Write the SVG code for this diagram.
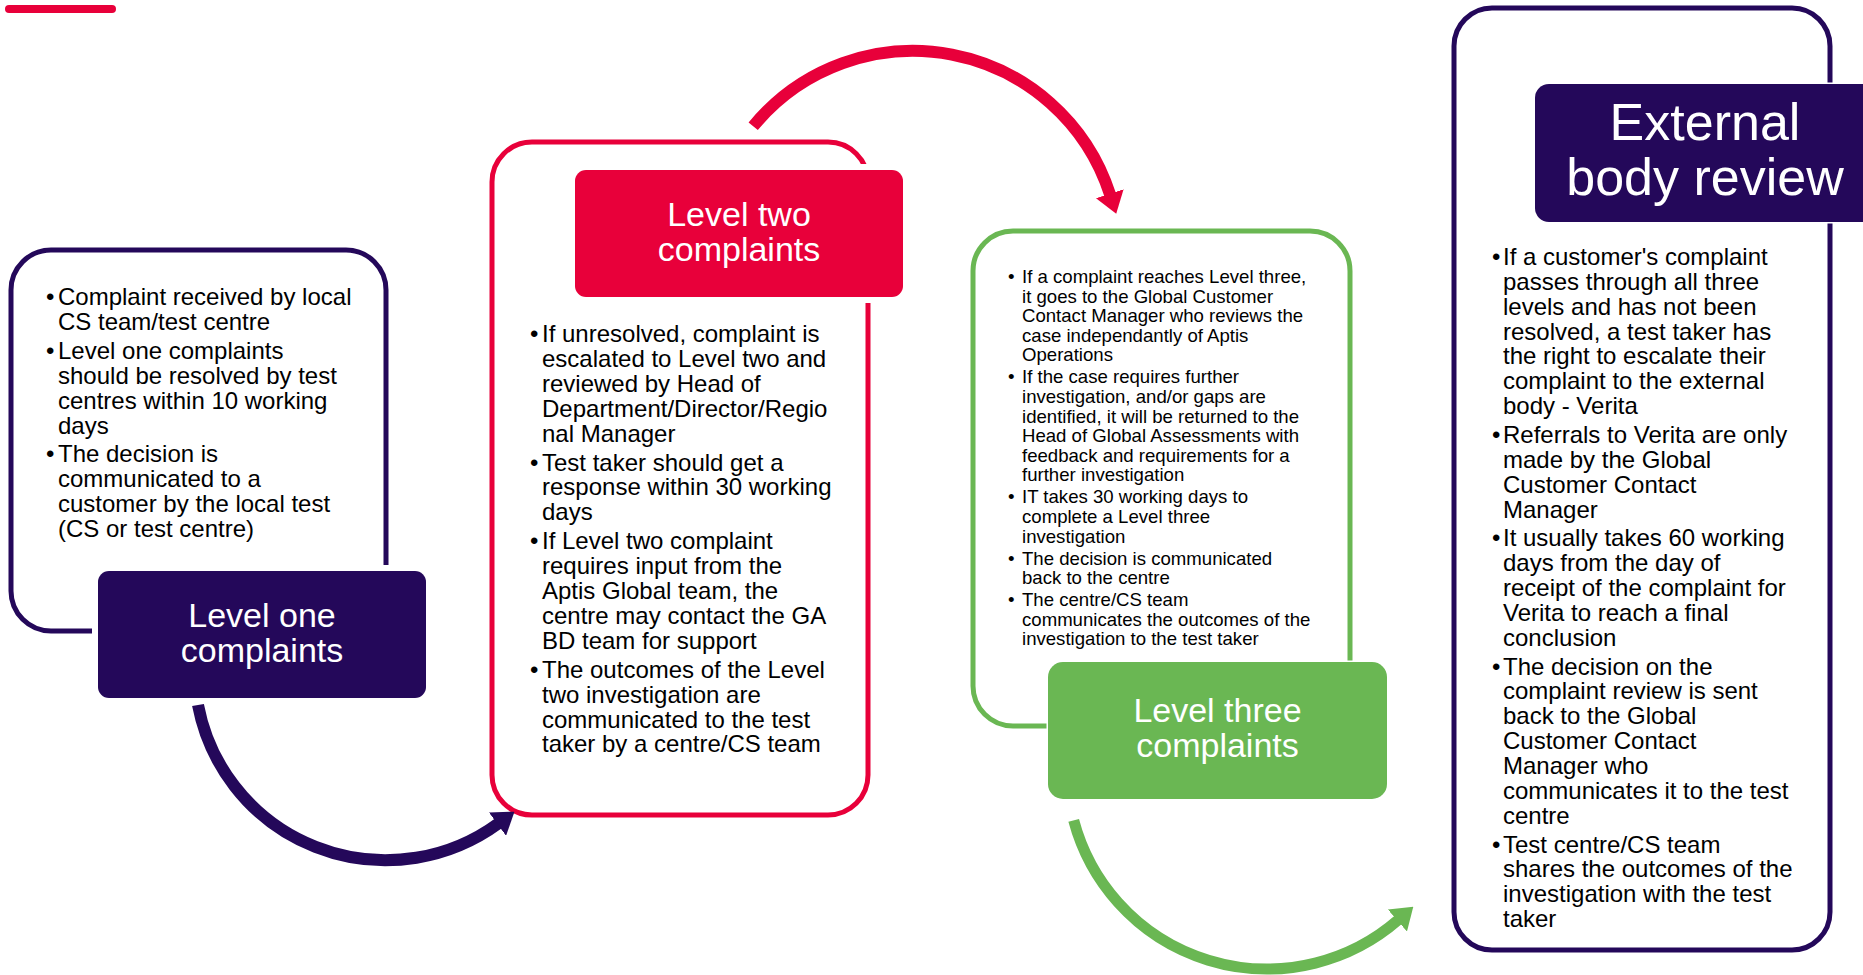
<svg xmlns="http://www.w3.org/2000/svg" width="1863" height="975" viewBox="0 0 1863 975">
<defs>
<style>
.txt{font-family:"Liberation Sans",Arial,sans-serif;font-size:24px;fill:#000}
.sm{font-size:18.6px}
.ttl{font-family:"Liberation Sans",Arial,sans-serif;font-size:34px;fill:#fff;text-anchor:middle}
.big{font-size:52px}
.outline{fill:none;stroke-width:5}
.lbl{paint-order:stroke;stroke:#fff}
.conn{fill:none;stroke-linecap:butt}
</style>
<marker id="ahP" markerUnits="userSpaceOnUse" markerWidth="21" markerHeight="29" viewBox="0 0 21 29" refX="1" refY="14.5" orient="auto"><path d="M0,0 L21,14.5 L0,29 z" fill="#24085A"/></marker>
<marker id="ahR" markerUnits="userSpaceOnUse" markerWidth="21" markerHeight="29" viewBox="0 0 21 29" refX="1" refY="14.5" orient="auto"><path d="M0,0 L21,14.5 L0,29 z" fill="#E8003A"/></marker>
<marker id="ahG" markerUnits="userSpaceOnUse" markerWidth="21" markerHeight="29" viewBox="0 0 21 29" refX="1" refY="14.5" orient="auto"><path d="M0,0 L21,14.5 L0,29 z" fill="#6AB753"/></marker>
</defs>
<rect width="1863" height="975" fill="#fff"/>
<line x1="9" y1="9" x2="112" y2="9" stroke="#E8003A" stroke-width="8" stroke-linecap="round"/>

<g id="level-one">
<rect class="outline" x="11" y="250" width="375" height="381" rx="40" stroke="#24085A"/>
<text class="txt">
<tspan x="46" y="305">•</tspan><tspan x="58" y="305">Complaint received by local</tspan>
<tspan x="58" y="329.9">CS team/test centre</tspan>
<tspan x="46" y="358.8">•</tspan><tspan x="58" y="358.8">Level one complaints</tspan>
<tspan x="58" y="383.7">should be resolved by test</tspan>
<tspan x="58" y="408.6">centres within 10 working</tspan>
<tspan x="58" y="433.5">days</tspan>
<tspan x="46" y="462.4">•</tspan><tspan x="58" y="462.4">The decision is</tspan>
<tspan x="58" y="487.3">communicated to a</tspan>
<tspan x="58" y="512.2">customer by the local test</tspan>
<tspan x="58" y="537.1">(CS or test centre)</tspan>
</text>
<rect class="lbl" x="98" y="571" width="328" height="127" rx="11" fill="#24085A" stroke-width="12"/>
<text class="ttl"><tspan x="262" y="627">Level one</tspan><tspan x="262" y="662">complaints</tspan></text>
</g>

<g id="level-two">
<rect class="outline" x="492" y="142" width="376" height="673" rx="40" stroke="#E8003A"/>
<text class="txt">
<tspan x="530" y="342">•</tspan><tspan x="542" y="342">If unresolved, complaint is</tspan>
<tspan x="542" y="366.9">escalated to Level two and</tspan>
<tspan x="542" y="391.8">reviewed by Head of</tspan>
<tspan x="542" y="416.7">Department/Director/Regio</tspan>
<tspan x="542" y="441.6">nal Manager</tspan>
<tspan x="530" y="470.5">•</tspan><tspan x="542" y="470.5">Test taker should get a</tspan>
<tspan x="542" y="495.4">response within 30 working</tspan>
<tspan x="542" y="520.3">days</tspan>
<tspan x="530" y="549.2">•</tspan><tspan x="542" y="549.2">If Level two complaint</tspan>
<tspan x="542" y="574.1">requires input from the</tspan>
<tspan x="542" y="599">Aptis Global team, the</tspan>
<tspan x="542" y="623.9">centre may contact the GA</tspan>
<tspan x="542" y="648.8">BD team for support</tspan>
<tspan x="530" y="677.7">•</tspan><tspan x="542" y="677.7">The outcomes of the Level</tspan>
<tspan x="542" y="702.6">two investigation are</tspan>
<tspan x="542" y="727.5">communicated to the test</tspan>
<tspan x="542" y="752.4">taker by a centre/CS team</tspan>
</text>
<rect class="lbl" x="575" y="170" width="328" height="127" rx="11" fill="#E8003A" stroke-width="12"/>
<text class="ttl"><tspan x="739" y="226">Level two</tspan><tspan x="739" y="261">complaints</tspan></text>
</g>

<g id="level-three">
<rect class="outline" x="973" y="231" width="377" height="495" rx="40" stroke="#6AB753"/>
<text class="txt sm">
<tspan x="1008" y="283">•</tspan><tspan x="1022" y="283">If a complaint reaches Level three,</tspan>
<tspan x="1022" y="302.6">it goes to the Global Customer</tspan>
<tspan x="1022" y="322.2">Contact Manager who reviews the</tspan>
<tspan x="1022" y="341.8">case independantly of Aptis</tspan>
<tspan x="1022" y="361.4">Operations</tspan>
<tspan x="1008" y="383.4">•</tspan><tspan x="1022" y="383.4">If the case requires further</tspan>
<tspan x="1022" y="403">investigation, and/or gaps are</tspan>
<tspan x="1022" y="422.6">identified, it will be returned to the</tspan>
<tspan x="1022" y="442.2">Head of Global Assessments with</tspan>
<tspan x="1022" y="461.8">feedback and requirements for a</tspan>
<tspan x="1022" y="481.4">further investigation</tspan>
<tspan x="1008" y="503.4">•</tspan><tspan x="1022" y="503.4">IT takes 30 working days to</tspan>
<tspan x="1022" y="523">complete a Level three</tspan>
<tspan x="1022" y="542.6">investigation</tspan>
<tspan x="1008" y="564.6">•</tspan><tspan x="1022" y="564.6">The decision is communicated</tspan>
<tspan x="1022" y="584.2">back to the centre</tspan>
<tspan x="1008" y="606.2">•</tspan><tspan x="1022" y="606.2">The centre/CS team</tspan>
<tspan x="1022" y="625.8">communicates the outcomes of the</tspan>
<tspan x="1022" y="645.4">investigation to the test taker</tspan>
</text>
<rect class="lbl" x="1048" y="662" width="339" height="137" rx="15" fill="#6AB753" stroke-width="3"/>
<text class="ttl"><tspan x="1217.5" y="722">Level three</tspan><tspan x="1217.5" y="757">complaints</tspan></text>
</g>

<g id="external-review">
<rect class="outline" x="1454" y="8" width="376" height="942" rx="38" stroke="#24085A"/>
<text class="txt">
<tspan x="1492" y="265">•</tspan><tspan x="1503" y="265">If a customer's complaint</tspan>
<tspan x="1503" y="289.85">passes through all three</tspan>
<tspan x="1503" y="314.7">levels and has not been</tspan>
<tspan x="1503" y="339.55">resolved, a test taker has</tspan>
<tspan x="1503" y="364.4">the right to escalate their</tspan>
<tspan x="1503" y="389.25">complaint to the external</tspan>
<tspan x="1503" y="414.1">body - Verita</tspan>
<tspan x="1492" y="442.95">•</tspan><tspan x="1503" y="442.95">Referrals to Verita are only</tspan>
<tspan x="1503" y="467.8">made by the Global</tspan>
<tspan x="1503" y="492.65">Customer Contact</tspan>
<tspan x="1503" y="517.5">Manager</tspan>
<tspan x="1492" y="546.35">•</tspan><tspan x="1503" y="546.35">It usually takes 60 working</tspan>
<tspan x="1503" y="571.2">days from the day of</tspan>
<tspan x="1503" y="596.05">receipt of the complaint for</tspan>
<tspan x="1503" y="620.9">Verita to reach a final</tspan>
<tspan x="1503" y="645.75">conclusion</tspan>
<tspan x="1492" y="674.6">•</tspan><tspan x="1503" y="674.6">The decision on the</tspan>
<tspan x="1503" y="699.45">complaint review is sent</tspan>
<tspan x="1503" y="724.3">back to the Global</tspan>
<tspan x="1503" y="749.15">Customer Contact</tspan>
<tspan x="1503" y="774">Manager who</tspan>
<tspan x="1503" y="798.85">communicates it to the test</tspan>
<tspan x="1503" y="823.7">centre</tspan>
<tspan x="1492" y="852.55">•</tspan><tspan x="1503" y="852.55">Test centre/CS team</tspan>
<tspan x="1503" y="877.4">shares the outcomes of the</tspan>
<tspan x="1503" y="902.25">investigation with the test</tspan>
<tspan x="1503" y="927.1">taker</tspan>
</text>
<rect class="lbl" x="1535" y="84" width="350" height="138" rx="14" fill="#24085A" stroke-width="3"/>
<text class="ttl big"><tspan x="1705" y="140">External</tspan><tspan x="1705" y="195">body review</tspan></text>
</g>

<g id="connectors">
<path class="conn" d="M198,705 A191,191 0 0 0 498.3,823.5" stroke="#24085A" stroke-width="12" marker-end="url(#ahP)"/>
<path class="conn" d="M753.2,126.3 A207,207 0 0 1 1110.1,194.7" stroke="#E8003A" stroke-width="12" marker-end="url(#ahR)"/>
<path class="conn" d="M1073.7,820.4 A200,200 0 0 0 1398.2,919.9" stroke="#6AB753" stroke-width="11" marker-end="url(#ahG)"/>
</g>
</svg>
